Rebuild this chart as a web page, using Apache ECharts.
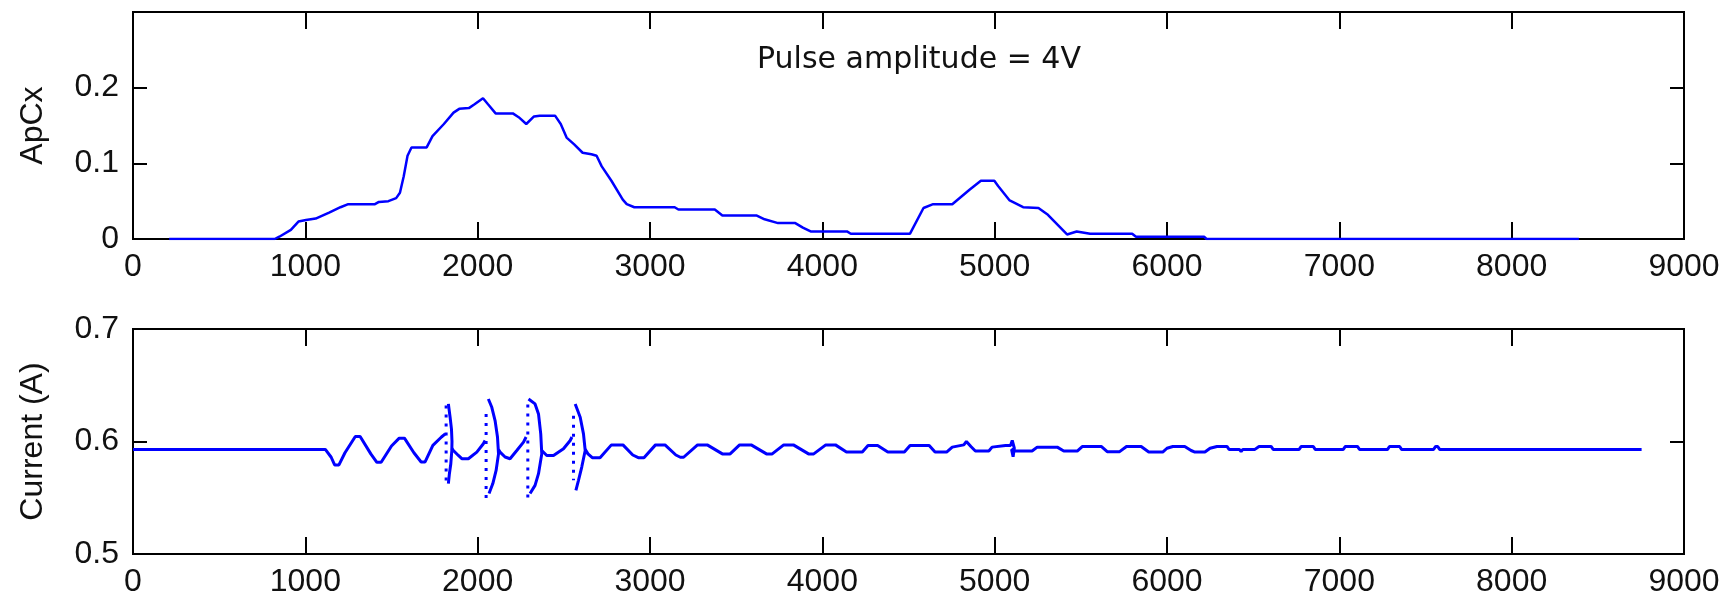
<!DOCTYPE html>
<html>
<head>
<meta charset="utf-8">
<script src="https://cdn.jsdelivr.net/npm/echarts@6/dist/echarts.min.js"></script>
<style>
  html, body { margin: 0; padding: 0; background: #fff; }
  #main { width: 1729px; height: 602px; }
</style>
</head>
<body>
<div id="main"></div>
<script>
// x ticks shared by both panels
var xTicks = [0, 9000, 1000];
var note = 'Pulse amplitude = 4V';

// upper panel: ApCx vs x
var apcx = [
  [210, 0], [822, 0], [849, 0.003], [916, 0.012], [960, 0.023], [1004, 0.025], [1060, 0.027],
  [1138, 0.035], [1204, 0.042], [1249, 0.046], [1404, 0.046], [1427, 0.049], [1482, 0.05],
  [1527, 0.054], [1549, 0.061], [1571, 0.083], [1593, 0.11], [1616, 0.121], [1704, 0.121],
  [1738, 0.136], [1804, 0.152], [1860, 0.167], [1893, 0.172], [1949, 0.173], [1982, 0.178],
  [2031, 0.186], [2060, 0.178], [2104, 0.166], [2204, 0.166], [2238, 0.161], [2282, 0.152],
  [2327, 0.162], [2360, 0.163], [2449, 0.163], [2482, 0.152], [2516, 0.134], [2560, 0.125],
  [2609, 0.114], [2660, 0.112], [2690, 0.110], [2720, 0.096], [2776, 0.077], [2842, 0.052],
  [2865, 0.046], [2909, 0.042], [3143, 0.042], [3165, 0.039], [3376, 0.039], [3420, 0.031],
  [3620, 0.031], [3665, 0.026], [3743, 0.021], [3843, 0.021], [3887, 0.015], [3932, 0.010],
  [4143, 0.010], [4165, 0.007], [4509, 0.007], [4587, 0.041], [4643, 0.046], [4754, 0.046],
  [4854, 0.065], [4920, 0.077], [4998, 0.077], [5020, 0.070], [5087, 0.051], [5165, 0.042],
  [5254, 0.041], [5309, 0.032], [5420, 0.006], [5476, 0.010], [5554, 0.007], [5798, 0.007],
  [5820, 0.003], [6215, 0.003], [6230, 0], [8390, 0]
];

// lower panel: current, solid pieces between the four jumps
var segA = [
  [0, 0.593], [1116, 0.593], [1150, 0.586], [1170, 0.5792], [1195, 0.5792], [1230, 0.590],
  [1290, 0.6045], [1318, 0.6045], [1380, 0.589], [1415, 0.5815], [1440, 0.5815], [1500, 0.596],
  [1545, 0.603], [1575, 0.603], [1630, 0.590], [1672, 0.5818], [1695, 0.5818], [1740, 0.5965],
  [1790, 0.604], [1812, 0.6068]
];
var segB = [
  [1850, 0.594], [1859, 0.592], [1888, 0.5876], [1908, 0.5847], [1946, 0.5847], [1995, 0.5906],
  [2033, 0.598], [2043, 0.6009]
];
var segC = [
  [2121, 0.593], [2130, 0.5906], [2159, 0.5862], [2188, 0.5847], [2227, 0.592], [2266, 0.5995],
  [2281, 0.604]
];
var segD = [
  [2372, 0.592], [2382, 0.5906], [2401, 0.5876], [2440, 0.5876], [2498, 0.5935], [2537, 0.6009],
  [2547, 0.604]
];
var segE = [
  [2624, 0.593], [2640, 0.589], [2665, 0.5856], [2710, 0.5856], [2776, 0.597], [2843, 0.597],
  [2900, 0.588], [2932, 0.5856], [2965, 0.5856], [3032, 0.597], [3087, 0.597], [3150, 0.588],
  [3176, 0.586], [3195, 0.586], [3276, 0.597], [3332, 0.597], [3420, 0.589], [3465, 0.589],
  [3520, 0.597], [3587, 0.597], [3676, 0.589], [3709, 0.589], [3776, 0.597], [3832, 0.597],
  [3920, 0.589], [3950, 0.589], [4020, 0.597], [4076, 0.597], [4140, 0.5906], [4232, 0.5906],
  [4265, 0.5965], [4321, 0.5965], [4380, 0.5906], [4476, 0.5906], [4509, 0.5965], [4620, 0.5965],
  [4654, 0.5906], [4721, 0.5906], [4754, 0.595], [4821, 0.597], [4836, 0.600], [4862, 0.5955],
  [4888, 0.5915], [4966, 0.5915], [4985, 0.595], [5063, 0.5965], [5092, 0.5965], [5102, 0.601],
  [5114, 0.594], [5107, 0.5865], [5098, 0.593], [5120, 0.5915], [5150, 0.5915], [5217, 0.5915],
  [5247, 0.595], [5363, 0.595], [5401, 0.5915], [5479, 0.5915], [5508, 0.5955], [5620, 0.5955],
  [5653, 0.591], [5725, 0.591], [5765, 0.5956], [5850, 0.5956], [5894, 0.5906], [5975, 0.5906],
  [6000, 0.594], [6034, 0.5956], [6103, 0.5956], [6140, 0.592], [6162, 0.5906], [6220, 0.5906],
  [6250, 0.594], [6290, 0.5956], [6348, 0.5956], [6360, 0.593], [6420, 0.593], [6430, 0.591],
  [6440, 0.593], [6510, 0.593], [6534, 0.5956], [6604, 0.5956], [6616, 0.593], [6767, 0.593],
  [6779, 0.5956], [6849, 0.5956], [6860, 0.593], [7023, 0.593], [7035, 0.5956], [7105, 0.5956],
  [7117, 0.593], [7280, 0.593], [7291, 0.5956], [7350, 0.5956], [7361, 0.593], [7547, 0.593],
  [7559, 0.5956], [7571, 0.5956], [7582, 0.593], [8754, 0.593]
];
// the ")" shaped swings at each jump
var spike1 = [[1830, 0.6334], [1840, 0.6216], [1848, 0.611], [1851, 0.600], [1850, 0.592], [1844, 0.580], [1836, 0.5714], [1830, 0.5626]];
var spike2 = [[2062, 0.6378], [2082, 0.6304], [2101, 0.6186], [2115, 0.604], [2121, 0.589], [2107, 0.5743], [2088, 0.5626], [2066, 0.5537]];
var spike3 = [[2295, 0.6378], [2333, 0.6334], [2353, 0.6245], [2366, 0.6068], [2372, 0.589], [2353, 0.5714], [2333, 0.561], [2304, 0.5537]];
var spike4 = [[2566, 0.6334], [2595, 0.6216], [2614, 0.6068], [2624, 0.592], [2604, 0.5773], [2585, 0.5655], [2570, 0.5566]];
// sparse dotted verticals next to each swing
var dots1 = [[1817, 0.632], [1817, 0.562]];
var dots2 = [[2049, 0.6245], [2049, 0.5478]];
var dots3 = [[2291, 0.633], [2291, 0.5478]];
var dots4 = [[2556, 0.623], [2556, 0.5655]];

var currentSegments = [segA, segB, segC, segD, segE];
var spikeCurves = [spike1, spike2, spike3, spike4];
var spikeDots = [dots1, dots2, dots3, dots4];

var chartDom = document.getElementById('main');
var myChart = echarts.init(chartDom);
var font = 'Liberation Sans, Arial, sans-serif';
var blue = '#0000ff';

function xAx(grid, pos, labels) {
  return {
    type: 'value', gridIndex: grid, position: pos,
    min: xTicks[0], max: xTicks[1], interval: xTicks[2],
    axisLine: { show: false, onZero: false },
    axisTick: { show: true, inside: true, length: 17, lineStyle: { color: '#000', width: 2 } },
    axisLabel: { show: labels, margin: 12, fontSize: 32, color: '#111', fontFamily: font,
      formatter: function (v) { return String(v); } },
    splitLine: { show: false }
  };
}
function yAx(grid, pos, min, max, labels, name, fmt) {
  return {
    type: 'value', gridIndex: grid, position: pos,
    min: min, max: max, interval: 0.1,
    name: labels ? name : '', nameLocation: 'middle', nameGap: 84,
    nameTextStyle: { fontSize: 32, color: '#111', fontFamily: font },
    axisLine: { show: false, onZero: false },
    axisTick: { show: true, inside: true, length: 14, lineStyle: { color: '#000', width: 2 } },
    axisLabel: { show: labels, margin: 14, fontSize: 32, color: '#111', fontFamily: font, formatter: fmt },
    splitLine: { show: false }
  };
}

var series = [{
  type: 'line', xAxisIndex: 0, yAxisIndex: 0, data: apcx,
  showSymbol: false, lineStyle: { color: blue, width: 2.5 }
}];
currentSegments.forEach(function (seg) {
  series.push({ type: 'line', xAxisIndex: 2, yAxisIndex: 2, data: seg,
    showSymbol: false, lineStyle: { color: blue, width: 3 } });
});
spikeCurves.forEach(function (seg) {
  series.push({ type: 'line', xAxisIndex: 2, yAxisIndex: 2, data: seg,
    showSymbol: false, lineStyle: { color: blue, width: 3 } });
});
spikeDots.forEach(function (seg) {
  series.push({ type: 'line', xAxisIndex: 2, yAxisIndex: 2, data: seg,
    showSymbol: false, lineStyle: { color: blue, width: 3, type: [3, 6] } });
});

var option = {
  animation: false,
  backgroundColor: '#fff',
  title: {
    text: note, left: 757, top: 45, padding: 0,
    textStyle: { fontSize: 30, fontWeight: 'normal', color: '#111', fontFamily: 'DejaVu Sans, sans-serif' }
  },
  grid: [
    { left: 133, right: 45, top: 12, height: 227, show: true, borderColor: '#000', borderWidth: 2 },
    { left: 133, right: 45, top: 329, height: 225, show: true, borderColor: '#000', borderWidth: 2 }
  ],
  xAxis: [xAx(0, 'bottom', true), xAx(0, 'top', false), xAx(1, 'bottom', true), xAx(1, 'top', false)],
  yAxis: [
    yAx(0, 'left', 0, 0.3, true, 'ApCx', function (v) { return v > 0.25 ? '' : String(+v.toFixed(1)); }),
    yAx(0, 'right', 0, 0.3, false, ''),
    yAx(1, 'left', 0.5, 0.7, true, 'Current (A)', function (v) { return (+v).toFixed(1); }),
    yAx(1, 'right', 0.5, 0.7, false, '')
  ],
  series: series
};

option && myChart.setOption(option);
</script>
</body>
</html>
